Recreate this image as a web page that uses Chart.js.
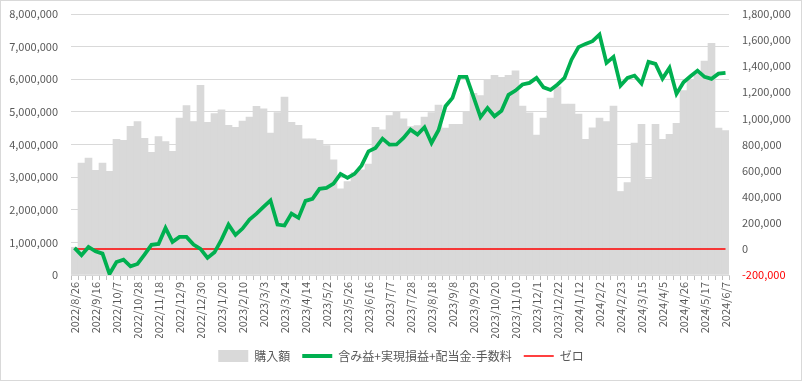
<!DOCTYPE html>
<html>
<head>
<meta charset="utf-8">
<script src="https://cdn.jsdelivr.net/npm/chart.js@4/dist/chart.umd.min.js"></script>
<style>
  html, body { margin: 0; padding: 0; background: #ffffff; }
  #wrap { position: relative; width: 802px; height: 381px; }
  #frame { position: absolute; left: 0; top: 0; width: 802px; height: 381px; box-sizing: border-box; border: 1px solid #d9d9d9; pointer-events: none; }
  canvas { display: block; }
</style>
</head>
<body>
<div id="wrap">
  <canvas id="c" width="802" height="381"></canvas>
  <div id="frame"></div>
</div>
<script>
const dates = [
  "2022/8/26","2022/9/2","2022/9/9","2022/9/16","2022/9/23","2022/9/30","2022/10/7","2022/10/14","2022/10/21","2022/10/28",
  "2022/11/4","2022/11/11","2022/11/18","2022/11/25","2022/12/2","2022/12/9","2022/12/16","2022/12/23","2022/12/30",
  "2023/1/6","2023/1/13","2023/1/20","2023/1/27","2023/2/3","2023/2/10","2023/2/17","2023/2/24","2023/3/3","2023/3/10",
  "2023/3/17","2023/3/24","2023/3/31","2023/4/7","2023/4/14","2023/4/21","2023/4/28","2023/5/2","2023/5/12","2023/5/19",
  "2023/5/26","2023/6/2","2023/6/9","2023/6/16","2023/6/23","2023/6/30","2023/7/7","2023/7/14","2023/7/21","2023/7/28",
  "2023/8/4","2023/8/11","2023/8/18","2023/8/25","2023/9/1","2023/9/8","2023/9/15","2023/9/22","2023/9/29","2023/10/6",
  "2023/10/13","2023/10/20","2023/10/27","2023/11/3","2023/11/10","2023/11/17","2023/11/24","2023/12/1","2023/12/8","2023/12/15",
  "2023/12/22","2023/12/29","2024/1/5","2024/1/12","2024/1/19","2024/1/26","2024/2/2","2024/2/9","2024/2/16","2024/2/23",
  "2024/3/1","2024/3/8","2024/3/15","2024/3/22","2024/3/29","2024/4/5","2024/4/12","2024/4/19","2024/4/26","2024/5/3",
  "2024/5/10","2024/5/17","2024/5/24","2024/5/31","2024/6/7"
];

// 購入額 (left axis)
const purchase = [
  850000,3430000,3580000,3210000,3430000,3180000,4160000,4130000,4560000,4700000,
  4190000,3760000,4240000,4090000,3790000,4810000,5190000,4700000,5810000,
  4680000,4950000,5060000,4590000,4530000,4720000,4840000,5170000,5090000,4350000,
  4980000,5450000,4680000,4590000,4170000,4170000,4130000,3970000,3530000,2640000,
  2860000,3140000,3220000,3400000,4530000,4450000,4890000,5010000,4790000,4550000,
  4580000,4840000,4980000,5210000,4500000,4620000,4620000,4990000,5570000,5500000,
  6000000,6120000,6060000,6120000,6260000,5180000,4970000,4290000,4810000,5420000,
  5770000,5240000,5240000,4930000,4160000,4510000,4810000,4700000,5180000,2560000,
  2830000,4040000,4620000,2940000,4620000,4160000,4310000,4650000,5650000,5970000,
  6200000,6560000,7100000,4500000,4430000
];

// 含み益+実現損益+配当金-手数料 (right axis)
const profit = [
  8000,-49000,15000,-18000,-36000,-192000,-100000,-82000,-133000,-115000,
  -44000,31000,38000,161000,54000,92000,92000,33000,0,
  -69000,-26000,71000,186000,107000,156000,225000,270000,322000,372000,
  186000,179000,270000,238000,368000,383000,460000,467000,500000,575000,
  544000,575000,638000,748000,774000,845000,799000,800000,850000,914000,
  876000,932000,812000,909000,1093000,1157000,1318000,1318000,1165000,1010000,
  1080000,1016000,1058000,1180000,1213000,1260000,1272000,1310000,1238000,1218000,
  1260000,1310000,1450000,1546000,1571000,1592000,1642000,1425000,1471000,1251000,
  1310000,1328000,1267000,1433000,1418000,1305000,1387000,1188000,1277000,1323000,
  1366000,1318000,1303000,1343000,1349000
];

// ゼロ (right axis)
const zero = dates.map(() => 0);

const leftTicks = { min: 0, max: 8000000, step: 1000000 };
const rightTicks = { min: -200000, max: 1800000, step: 200000 };

const seriesNames = ["購入額", "含み益+実現損益+配当金-手数料", "ゼロ"];

const FONT = "'Noto Sans CJK JP', 'Noto Sans', sans-serif";
const TXT = '#595959';
const CLEAR = 'rgba(0,0,0,0)';
const fmt = v => Number(v).toLocaleString('en-US');

new Chart(document.getElementById('c'), {
  data: {
    labels: dates,
    datasets: [
      { type: 'bar', label: seriesNames[0], data: purchase, yAxisID: 'yL',
        backgroundColor: '#d9d9d9', borderWidth: 0, barPercentage: 1.0, categoryPercentage: 1.0, order: 3 },
      { type: 'line', label: seriesNames[1], data: profit, yAxisID: 'yR',
        borderColor: '#00b050', backgroundColor: '#00b050', borderWidth: 3.75, pointRadius: 0, tension: 0, order: 1 },
      { type: 'line', label: seriesNames[2], data: zero, yAxisID: 'yR',
        borderColor: '#ff0000', backgroundColor: '#ff0000', borderWidth: 1.5, pointRadius: 0, order: 2 }
    ]
  },
  options: {
    responsive: false,
    animation: false,
    layout: { padding: { top: 14, bottom: 9, left: 0, right: 0 } },
    plugins: {
      tooltip: { enabled: false },
      legend: {
        position: 'bottom',
        labels: {
          usePointStyle: true,
          pointStyleWidth: 30,
          boxHeight: 12,
          padding: 12,
          color: TXT,
          font: { family: FONT, size: 12 },
          generateLabels: (chart) => chart.data.datasets.map((ds, i) => ({
            text: ds.label,
            fillStyle: i === 0 ? '#d9d9d9' : ds.borderColor,
            strokeStyle: i === 0 ? '#d9d9d9' : ds.borderColor,
            lineWidth: i === 0 ? 0 : (i === 1 ? 4 : 1.5),
            pointStyle: i === 0 ? 'rect' : 'line',
            hidden: false,
            datasetIndex: i,
            fontColor: TXT
          }))
        }
      }
    },
    scales: {
      x: {
        offset: true,
        grid: { display: true, drawOnChartArea: false, drawTicks: true, tickLength: 5, color: '#bfbfbf', offset: true },
        border: { display: true, color: '#d9d9d9' },
        ticks: {
          autoSkip: false, maxRotation: 90, minRotation: 90, padding: 2,
          color: TXT, font: { family: FONT, size: 11 },
          callback: function (val, idx) { return idx % 3 === 0 ? dates[idx] : ''; }
        },
        afterFit: s => { s.height = 63; }
      },
      yL: {
        position: 'left',
        min: leftTicks.min, max: leftTicks.max,
        grid: { color: '#d9d9d9', drawTicks: true, tickLength: 13, tickColor: CLEAR },
        border: { display: false },
        ticks: { stepSize: leftTicks.step, padding: 0, color: TXT, font: { family: FONT, size: 11 }, callback: v => fmt(v) },
        afterFit: s => { s.width = 71; }
      },
      yR: {
        position: 'right',
        min: rightTicks.min, max: rightTicks.max,
        grid: { display: true, drawOnChartArea: false, drawTicks: true, tickLength: 13, tickColor: CLEAR, color: CLEAR },
        border: { display: false },
        ticks: { stepSize: rightTicks.step, padding: 0, font: { family: FONT, size: 11 },
          color: c => (c.tick && c.tick.value < 0) ? '#ff0000' : TXT,
          callback: v => fmt(v) },
        afterFit: s => { s.width = 73; }
      }
    }
  }
});
</script>
</body>
</html>
